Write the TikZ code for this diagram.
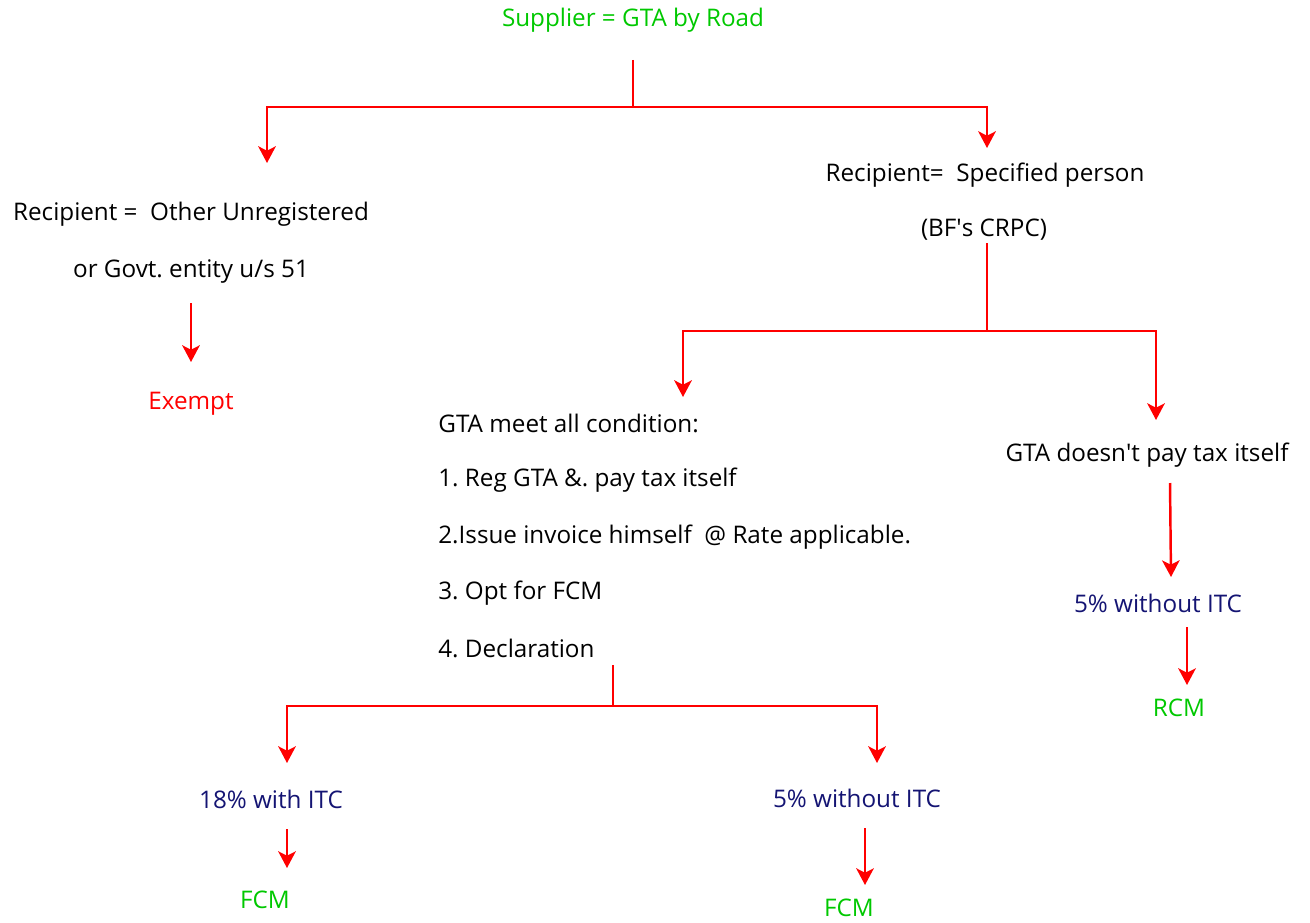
\documentclass[tikz,border=0pt]{standalone}
\usepackage{fontspec}
\setmainfont{Open Sans}
\usetikzlibrary{arrows.meta}
\frenchspacing
\definecolor{tgreen}{RGB}{0,200,0}
\definecolor{tnavy}{RGB}{20,20,115}
\definecolor{tred}{RGB}{255,0,0}
\tikzset{
  lbl/.style={inner sep=0pt, font=\fontsize{13.8}{16}\selectfont},
  link/.style={draw=tred, line width=1.4pt},
  arr/.style={link, -{Stealth[length=9.5pt, width=10pt, inset=2.5pt]}},
}
\begin{document}
\begin{tikzpicture}[x=0.02cm, y=-0.02cm]
\useasboundingbox (0,0) rectangle (1310,922);

% texts
\node[lbl, text=tgreen] (sup) at (633,20) {Supplier = GTA by Road};
\node[lbl] (lrec) at (191,214) {Recipient =\ \ Other Unregistered};
\node[lbl] (lgov) at (191,272) {or Govt. entity u/s 51};
\node[lbl, text=tred] (exempt) at (191,404) {Exempt};
\node[lbl] (rrec) at (985,175) {Recipient=\ \ Specified person};
\node[lbl] (rbf) at (984,230) {(BF\textquotesingle s CRPC)};
\node[lbl, anchor=west] (c0) at (438,423) {GTA meet all condition:};
\node[lbl, anchor=west] (c1) at (438,480) {1. Reg GTA \&. pay tax itself};
\node[lbl, anchor=west] (c2) at (438,537) {2.Issue invoice himself\ \ @ Rate applicable.};
\node[lbl, anchor=west] (c3) at (438,593) {3. Opt for FCM};
\node[lbl, anchor=west] (c4) at (438,648) {4. Declaration};
\node[lbl] (gtano) at (1147,455) {GTA doesn\textquotesingle t pay tax itself};
\node[lbl, text=tnavy] (rate5r) at (1158,603) {5\% without ITC};
\node[lbl, text=tgreen] (rcm) at (1179,708) {RCM};
\node[lbl, text=tnavy] (rate18) at (271,799) {18\% with ITC};
\node[lbl, text=tgreen] (fcmA) at (265,900) {FCM};
\node[lbl, text=tnavy] (rate5) at (857,798) {5\% without ITC};
\node[lbl, text=tgreen] (fcmB) at (849,908) {FCM};

% connector points
\coordinate (s0) at (633,60);
\coordinate (j0) at (633,107);
\coordinate (e1) at (267,163);
\coordinate (e2) at (987,148);
\coordinate (s1) at (191,303);
\coordinate (e3) at (191,362);
\coordinate (s2) at (987,243);
\coordinate (j2) at (987,331);
\coordinate (e4) at (683,397);
\coordinate (e5) at (1156,420);
\coordinate (s3) at (613,665);
\coordinate (j3) at (613,706);
\coordinate (e6) at (287,763);
\coordinate (e7) at (877,763);
\coordinate (s4) at (1170,483);
\coordinate (e8) at (1171,577);
\coordinate (s5) at (1187,627);
\coordinate (e9) at (1187,685);
\coordinate (s6) at (287,829);
\coordinate (e10) at (287,868);
\coordinate (s7) at (865,828);
\coordinate (e11) at (865,885);

% connectors
\draw[link] (s0) -- (j0);
\draw[arr] (j0) -| (e1);
\draw[arr] (j0) -| (e2);
\draw[arr] (s1) -- (e3);
\draw[link] (s2) -- (j2);
\draw[arr] (j2) -| (e4);
\draw[arr] (j2) -| (e5);
\draw[link] (s3) -- (j3);
\draw[arr] (j3) -| (e6);
\draw[arr] (j3) -| (e7);
\draw[arr] (s4) -- (e8);
\draw[arr] (s5) -- (e9);
\draw[arr] (s6) -- (e10);
\draw[arr] (s7) -- (e11);
\end{tikzpicture}
\end{document}
